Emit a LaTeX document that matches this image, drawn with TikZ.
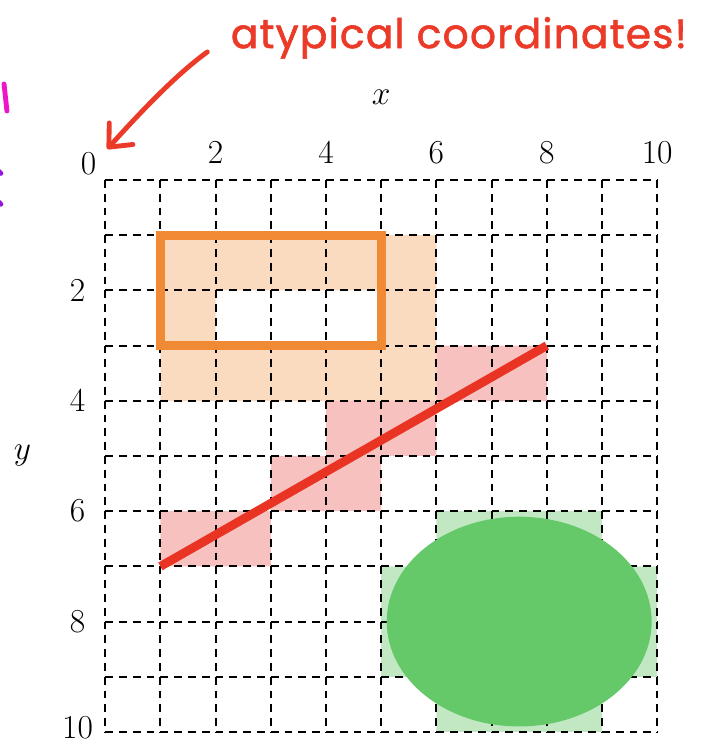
\documentclass[tikz,border=0pt]{standalone}
\usepackage{fontspec}
\newfontfamily\notefont[FakeBold=1.5, LetterSpace=3]{Poppins}
\usetikzlibrary{arrows.meta}
\definecolor{rasterorange}{RGB}{240,138,52}
\definecolor{rasterpeach}{RGB}{250,219,192}
\definecolor{rasterred}{RGB}{233,52,36}
\definecolor{rasterpink}{RGB}{247,193,191}
\definecolor{rastergreen}{RGB}{101,201,106}
\definecolor{rastermint}{RGB}{193,232,194}
\definecolor{inkred}{RGB}{235,58,40}
\definecolor{inkmagenta}{RGB}{240,20,200}
\definecolor{inkpurple}{RGB}{150,20,220}

\begin{document}
\begin{tikzpicture}[
    x=1cm, y=-1cm,
    gridline/.style={line width=1.1pt, dash pattern=on 4pt off 3.11pt},
    ticklabel/.style={font=\LARGE, inner sep=0pt},
    thickshape/.style={line width=4.5pt},
    ink/.style={line width=2.5pt, line cap=round, line join=round}
  ]
    \useasboundingbox (-1.906,-3.261) rectangle (10.835,10.254);
    \fill[rasterpeach] (1,1) rectangle (6,2) (1,2) rectangle (2,3) (5,2) rectangle (6,3) (1,3) rectangle (6,4);
    \fill[rasterpink] (6,3) rectangle (8,4) (4,4) rectangle (6,5) (3,5) rectangle (5,6) (1,6) rectangle (3,7);
    \fill[rastermint] (6,6) rectangle (9,7) (5,7) rectangle (10,9) (6,9) rectangle (9,10);
    \foreach \i in {0,...,10}
      \foreach \j in {0,...,9} {
        \draw[gridline] (\j,\i) -- ++(1,0);
        \draw[gridline] (\i,\j) -- ++(0,1);
      }
    \fill[rastergreen] (7.5,8) ellipse [x radius=2.4, y radius=1.9];
    \draw[thickshape, rasterorange] (1,1) rectangle (5,3);
    \draw[thickshape, rasterred] (1,7) -- (8,3);

    \node[ticklabel] (zero) at (-0.3,-0.3) {$0$};
    \foreach \v in {2,4,...,8} {
      \node[ticklabel] (xtick\v) at (\v,-0.5) {$\v$};
      \node[ticklabel] (ytick\v) at (-0.5,\v) {$\v$};
    }
    \node[ticklabel] (xtick10) at (10,-0.5) {$10$};
    \node[ticklabel] (ytick10) at (-0.5,9.92) {$10$};
    \node[ticklabel] (xlabel) at (5,-1.5) {$x$};
    \node[ticklabel] (ylabel) at (-1.5,5) {$y$};

    \node[anchor=base west, inner sep=0pt, text=inkred, font=\notefont\fontsize{21}{25}\selectfont] (note) at (2.27,-2.39) {atypical coordinates!};
    \draw[ink, inkred, -{Straight Barb[length=3.3mm, width=5.8mm, round]}]
      ([shift={(-0.42,0.07)}]note.base west) .. controls +(-0.65,0.47) and +(0.41,-0.45) .. ([shift={(0.19,-0.06)}]zero.north east);

    \draw[ink, inkmagenta] (-1.833,-1.74) -- (-1.78,-1.25);
    \draw[ink, inkpurple] (-1.95,-0.18) -- (-1.89,-0.12);
    \draw[ink, inkpurple] (-1.95,0.38) -- (-1.89,0.44);
  \end{tikzpicture}
\end{document}
